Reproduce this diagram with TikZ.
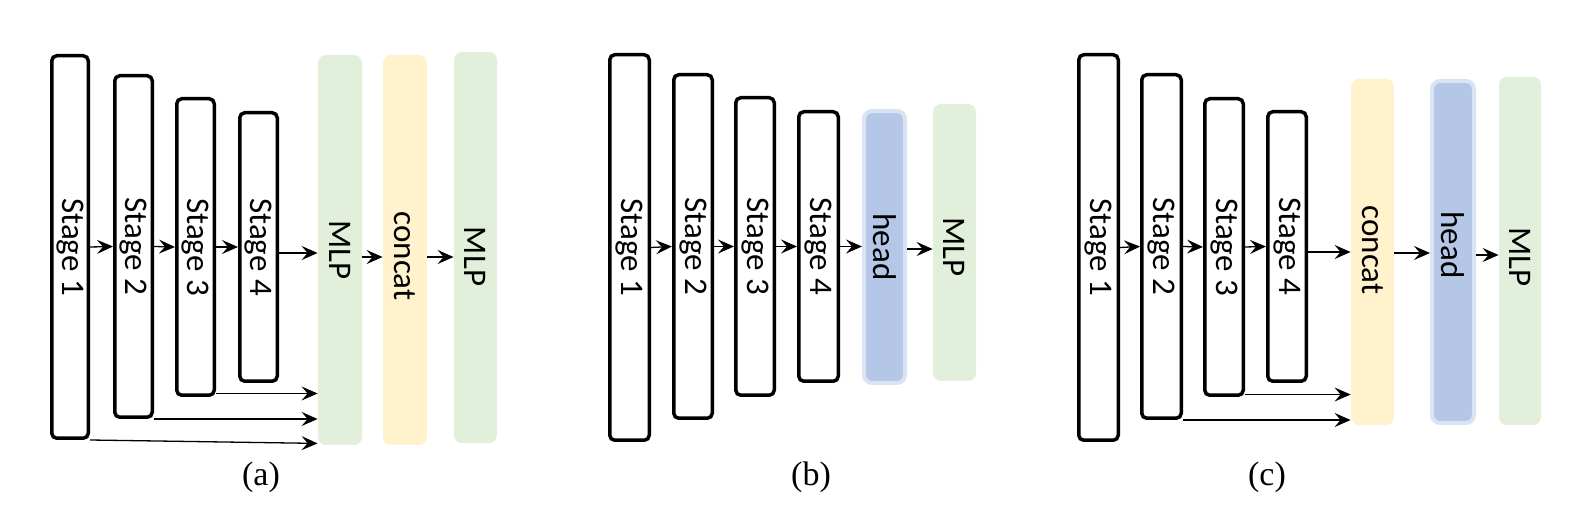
\documentclass[tikz,border=0pt]{standalone}
\usepackage{fontspec}
\usetikzlibrary{arrows.meta}
\newfontfamily\carl{Carlito}
\newfontfamily\tnr{Liberation Serif}
\definecolor{mlpgreen}{HTML}{E2EFDA}
\definecolor{catyellow}{HTML}{FFF2CC}
\definecolor{headblue}{HTML}{B4C7E7}
\definecolor{headborder}{HTML}{DAE3F3}
\newcommand\vtxt[2][0pt]{\rotatebox{-90}{\hspace*{#1}#2\hspace*{-#1}}}
\tikzset{
  stagebox/.style={draw=black, line width=1.75pt, rounded corners=2.5pt, fill=white, inner sep=0pt, font=\carl\fontsize{16.5pt}{18pt}\selectfont},
  mlpbox/.style={fill=mlpgreen, rounded corners=4pt, inner sep=0pt, font=\carl\fontsize{16.5pt}{18pt}\selectfont},
  catbox/.style={fill=catyellow, rounded corners=4pt, inner sep=0pt, font=\carl\fontsize{16.5pt}{18pt}\selectfont},
  headbox/.style={fill=headblue, draw=headborder, line width=2pt, rounded corners=4pt, inner sep=0pt, font=\carl\fontsize{16.5pt}{18pt}\selectfont},
  arr/.style={-{Stealth[length=8pt,width=7pt,inset=3pt]}, line width=0.65pt},
  caption/.style={font=\tnr\fontsize{17pt}{20pt}\selectfont, inner sep=0pt}
}
\begin{document}
\begin{tikzpicture}[x=0.5pt,y=-0.5pt]
\useasboundingbox (0,0) rectangle (1576,518);
% ---------- panel (a)
\node[stagebox, minimum width=18.25pt, minimum height=191.25pt] (a1) at (70,247) {\vtxt{Stage 1}};
\node[stagebox, minimum width=18.75pt, minimum height=170.75pt] (a2) at (133.5,246.5) {\vtxt{Stage 2}};
\node[stagebox, minimum width=18.75pt, minimum height=148.25pt] (a3) at (195.5,247) {\vtxt{Stage 3}};
\node[stagebox, minimum width=18.75pt, minimum height=134.25pt] (a4) at (258.5,247) {\vtxt{Stage 4}};
\node[mlpbox, minimum width=22pt, minimum height=195pt] (a5) at (340,250) {\vtxt{MLP}};
\node[catbox, minimum width=22pt, minimum height=195pt] (a6) at (405,250) {\vtxt[3pt]{concat}};
\node[mlpbox, minimum width=21.5pt, minimum height=195.5pt] (a7) at (475.5,247.5) {\vtxt[4.5pt]{MLP}};
\draw[arr] (a1.east) -- (a2.west);
\draw[arr] (a2.east) -- (a3.west);
\draw[arr] (a3.east) -- (a4.west);
\draw[arr] ([yshift=-3pt]a4.east) -- ([yshift=-3pt]a4.east -| a5.west);
\draw[arr] ([yshift=-3.5pt]a5.east) -- ([yshift=-3.5pt]a5.east -| a6.west);
\draw[arr] ([yshift=-3.5pt]a6.east) -- ([yshift=-3.5pt]a6.east -| a7.west);
\draw[arr] ([yshift=1.75pt]a3.south east) -- ([yshift=1.75pt]a3.south east -| a5.west);
\draw[arr] (a2.south east) -- (a2.south east -| a5.west);
\draw[arr] (a1.south east) -- ([yshift=1pt]a5.south west);
\node[caption] (capa) at (261,477) {(a)};
% ---------- panel (b)
\node[stagebox, minimum width=19.75pt, minimum height=192.75pt] (b1) at (629.5,247.5) {\vtxt{Stage 1}};
\node[stagebox, minimum width=19.25pt, minimum height=171.75pt] (b2) at (693,246.5) {\vtxt{Stage 2}};
\node[stagebox, minimum width=19.25pt, minimum height=148.75pt] (b3) at (755,246.5) {\vtxt{Stage 3}};
\node[stagebox, minimum width=19.75pt, minimum height=134.75pt] (b4) at (818.5,246.5) {\vtxt{Stage 4}};
\node[headbox, minimum width=20.5pt, minimum height=136pt] (b5) at (884.5,247) {\vtxt{head}};
\node[mlpbox, minimum width=21.5pt, minimum height=138.5pt] (b6) at (954.5,242.5) {\vtxt[2.25pt]{MLP}};
\draw[arr] (b1.east) -- (b2.west);
\draw[arr] (b2.east) -- (b3.west);
\draw[arr] (b3.east) -- (b4.west);
\draw[arr] (b4.east) -- (b4.east -| b5.west);
\draw[arr] ([yshift=-1pt]b5.east) -- ([yshift=-1pt]b5.east -| b6.west);
\node[caption] (capb) at (811,477) {(b)};
% ---------- panel (c)
\node[stagebox, minimum width=19.75pt, minimum height=192.75pt] (c1) at (1098.5,247.5) {\vtxt{Stage 1}};
\node[stagebox, minimum width=19.75pt, minimum height=171.75pt] (c2) at (1161.5,246.5) {\vtxt{Stage 2}};
\node[stagebox, minimum width=19.25pt, minimum height=148.25pt] (c3) at (1224,247) {\vtxt{Stage 3}};
\node[stagebox, minimum width=19.25pt, minimum height=134.75pt] (c4) at (1287,246.5) {\vtxt{Stage 4}};
\node[catbox, minimum width=21.5pt, minimum height=173pt] (c5) at (1372.5,252) {\vtxt[-1pt]{concat}};
\node[headbox, minimum width=21pt, minimum height=171pt] (c6) at (1453,252) {\vtxt[-3.5pt]{head}};
\node[mlpbox, minimum width=21pt, minimum height=174pt] (c7) at (1520,251) {\vtxt[3pt]{MLP}};
\draw[arr] (c1.east) -- (c2.west);
\draw[arr] (c2.east) -- (c3.west);
\draw[arr] (c3.east) -- (c4.west);
\draw[arr] ([yshift=-2.75pt]c4.east) -- ([yshift=-2.75pt]c4.east -| c5.west);
\draw[arr] ([yshift=-0.5pt]c5.east) -- ([yshift=-0.5pt]c5.east -| c6.west);
\draw[arr] ([yshift=-1.5pt]c6.east) -- ([yshift=-1.5pt]c6.east -| c7.west);
\draw[arr] ([yshift=1.25pt]c3.south east) -- ([yshift=1.25pt]c3.south east -| c5.west);
\draw[arr] (c2.south east) -- (c2.south east -| c5.west);
\node[caption] (capc) at (1267,477) {(c)};
\end{tikzpicture}
\end{document}
